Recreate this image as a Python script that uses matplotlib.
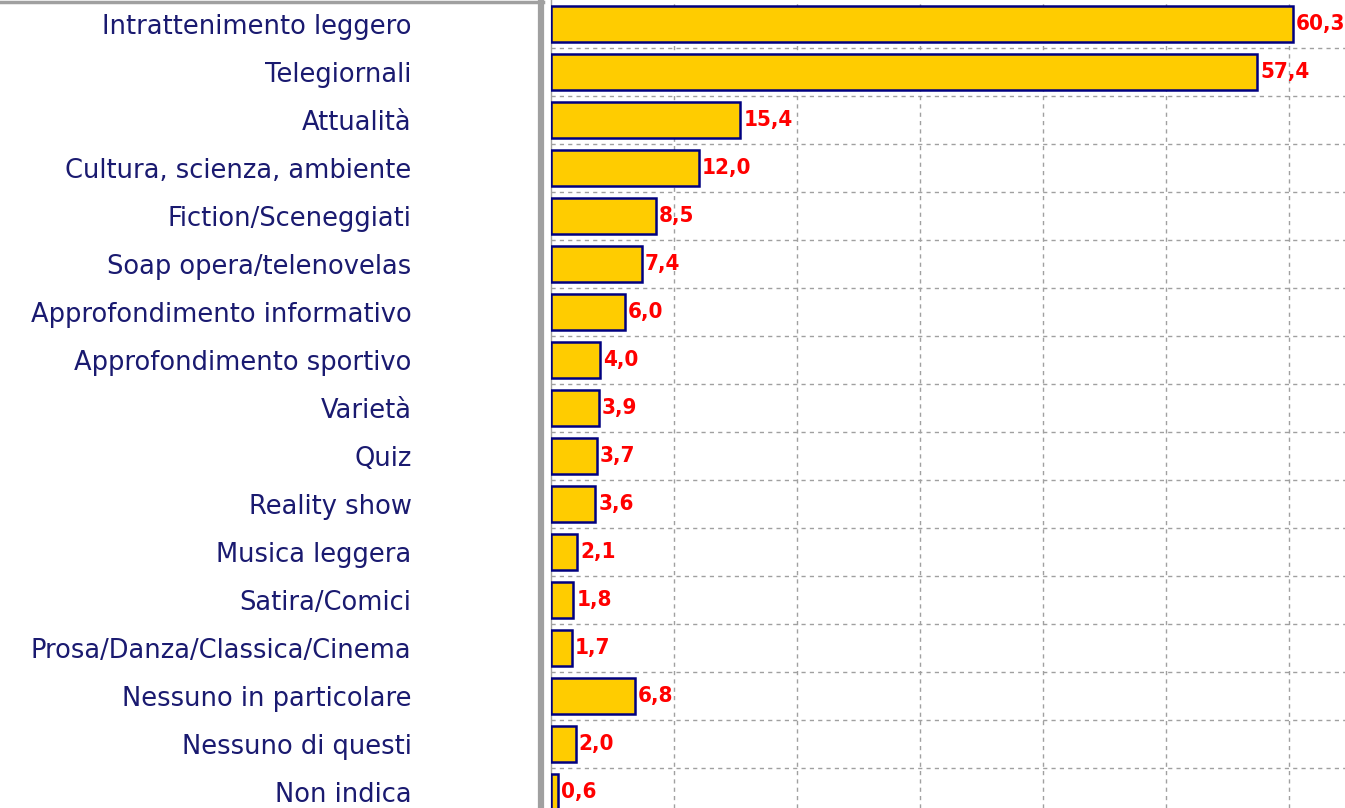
import matplotlib.pyplot as plt
from matplotlib.lines import Line2D

categories = [
    "Intrattenimento leggero",
    "Telegiornali",
    "Attualità",
    "Cultura, scienza, ambiente",
    "Fiction/Sceneggiati",
    "Soap opera/telenovelas",
    "Approfondimento informativo",
    "Approfondimento sportivo",
    "Varietà",
    "Quiz",
    "Reality show",
    "Musica leggera",
    "Satira/Comici",
    "Prosa/Danza/Classica/Cinema",
    "Nessuno in particolare",
    "Nessuno di questi",
    "Non indica",
]
values = [60.3, 57.4, 15.4, 12.0, 8.5, 7.4, 6.0, 4.0, 3.9, 3.7, 3.6, 2.1, 1.8, 1.7, 6.8, 2.0, 0.6]

W, H = 1345, 808
fig = plt.figure(figsize=(W / 100, H / 100), dpi=100)
ax = fig.add_axes([551 / W, 0, 1 - 551 / W, 1])

ypos = list(range(len(categories)))
ax.barh(ypos, values, height=0.75, color="#FFCC00", edgecolor="#000080",
        linewidth=1.8, zorder=3)

for y, v in zip(ypos, values):
    ax.text(v + 0.25, y, f"{v:.1f}".replace(".", ","), va="center", ha="left",
            color="#FF0000", fontsize=16, fontweight="bold", fontstretch="condensed",
            family=["DejaVu Sans"], zorder=4, clip_on=False)

ax.set_xticks(range(10, 70, 10))
ax.set_yticks([y + 0.5 for y in ypos[:-1]], minor=True)
ax.tick_params(axis="x", length=0, labelbottom=False)
ax.tick_params(axis="y", which="minor", length=0)
ax.set_yticks(ypos)
ax.set_yticklabels(categories, fontsize=18.5, color="#1A1A70")
ax.tick_params(axis="y", which="major", length=0, pad=100.5)

# limits set after the ticks so they are not expanded
ax.set_xlim(0, 64.55)
ax.set_ylim((H - 24) / 48, -0.5)

ax.grid(axis="x", which="major", linestyle=(0, (3, 3)), color="#A0A0A0", linewidth=1, zorder=0)
ax.grid(axis="y", which="minor", linestyle=(0, (3, 3)), color="#A0A0A0", linewidth=1, zorder=0)

for s in ["top", "right", "bottom"]:
    ax.spines[s].set_visible(False)
ax.spines["left"].set_color("#A0A0A0")
ax.spines["left"].set_linewidth(1)

# gray box around the label area
fig.add_artist(Line2D([541 / W, 541 / W], [0, 1], color="#A0A0A0", linewidth=4.5,
                      transform=fig.transFigure))
fig.add_artist(Line2D([0, 543 / W], [1 - 1.5 / H, 1 - 1.5 / H], color="#A0A0A0",
                      linewidth=2.5, transform=fig.transFigure))

fig.savefig("out.png", dpi=100)
